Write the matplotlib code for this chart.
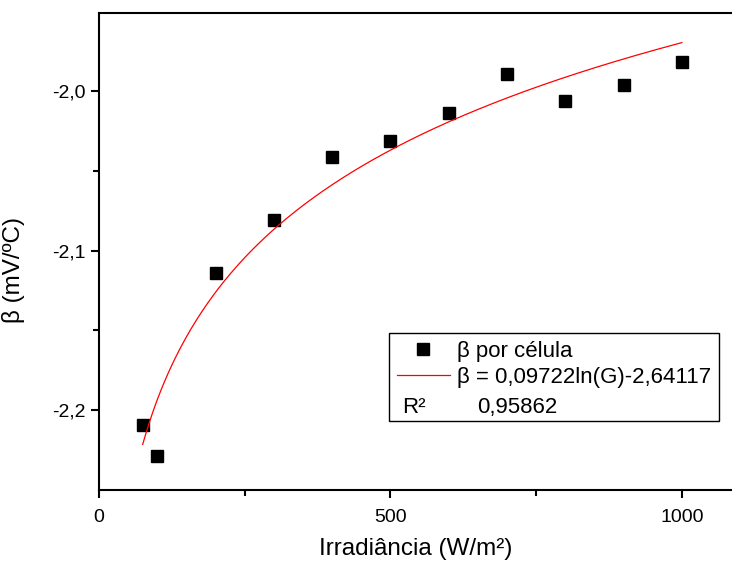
import numpy as np
import matplotlib
matplotlib.use('Agg')
import matplotlib.pyplot as plt
from matplotlib.lines import Line2D
from matplotlib.ticker import FixedLocator, FuncFormatter

plt.rcParams['font.family'] = ['Liberation Sans', 'DejaVu Sans']

irradiance = [75, 100, 200, 300, 400, 500, 600, 700, 800, 900, 1000]
beta = [-2.209, -2.229, -2.114, -2.081, -2.041, -2.031, -2.014, -1.989, -2.006, -1.996, -1.982]

# logarithmic fit reported in the legend
fit_a = 0.09722
fit_b = -2.64117
fit_r2 = "0,95862"

fig = plt.figure(figsize=(7.32, 5.66), dpi=100)
ax = fig.add_axes([0.1352, 0.1343, 0.8648, 0.8428])

ax.plot(irradiance, beta, 's', color='black', ms=8, label='β por célula')
g = np.linspace(min(irradiance), max(irradiance), 300)
ax.plot(g, fit_a * np.log(g) + fit_b, color='red', lw=0.9,
        label='β = 0,09722ln(G)-2,64117')

ax.set_xlim(0, 1086)
ax.set_ylim(-2.25, -1.951)

ax.xaxis.set_major_locator(FixedLocator([0, 500, 1000]))
ax.xaxis.set_minor_locator(FixedLocator([250, 750]))
ax.yaxis.set_major_locator(FixedLocator([-2.2, -2.1, -2.0]))
ax.yaxis.set_minor_locator(FixedLocator([-2.15, -2.05]))
ax.yaxis.set_major_formatter(FuncFormatter(lambda v, p: f'{v:.1f}'.replace('.', ',')))

ax.spines['right'].set_visible(False)
for s in ['left', 'bottom', 'top']:
    ax.spines[s].set_linewidth(1.5)
ax.tick_params(which='both', direction='out', width=1.5, labelsize=14, top=False, right=False)
ax.tick_params(which='major', length=6)
ax.tick_params(which='minor', length=4)
ax.tick_params(axis='x', pad=8)

ax.set_xlabel('Irradiância (W/m²)', fontsize=17.5, labelpad=8)
ax.set_ylabel('β (mV/ºC)', fontsize=17.5)
ax.yaxis.set_label_coords(-0.117, 0.461)

handles, labels = ax.get_legend_handles_labels()
handles.append(Line2D([], [], linestyle='none'))
labels.append(' ')
leg = ax.legend(handles, labels, loc='upper left', bbox_to_anchor=(0.458, 0.329),
                fontsize=16, frameon=True, fancybox=False, edgecolor='black',
                framealpha=1, handlelength=2.4, handletextpad=0.3,
                labelspacing=0.22, borderpad=0.35, borderaxespad=0)
leg.get_frame().set_linewidth(1.0)

ax.text(0.479, 0.172, 'R²', transform=ax.transAxes, fontsize=16, va='center', zorder=10)
ax.text(0.598, 0.172, fit_r2, transform=ax.transAxes, fontsize=16, va='center', zorder=10)

fig.savefig('out.png', dpi=100)
